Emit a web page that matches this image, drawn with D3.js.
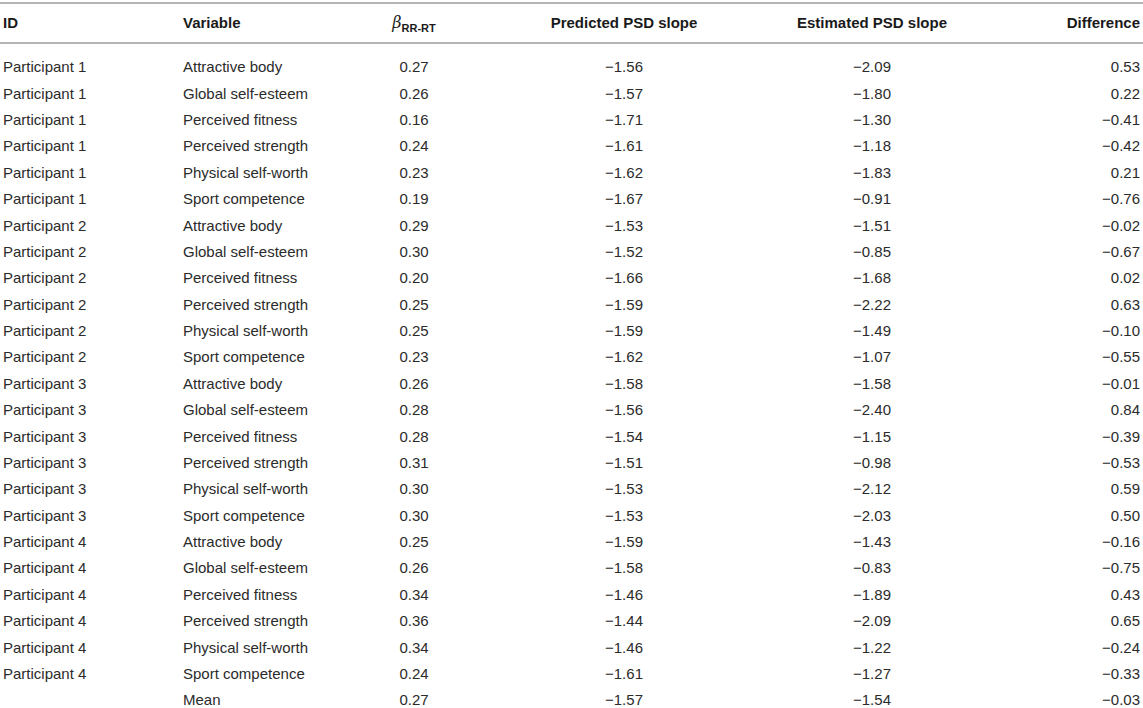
<!DOCTYPE html>
<html lang="en">
<head>
    <meta charset="UTF-8">
    <title>Table</title>
    <script src="https://d3js.org/d3.v7.min.js"></script>
    <style>
        body { margin: 0; background: white; }
        svg { display: block; font-family: "Liberation Sans", Arial, sans-serif; }
    </style>
</head>
<body>
<script>

    var ids = ["Participant 1", "Participant 1", "Participant 1", "Participant 1", "Participant 1", "Participant 1",
        "Participant 2", "Participant 2", "Participant 2", "Participant 2", "Participant 2", "Participant 2",
        "Participant 3", "Participant 3", "Participant 3", "Participant 3", "Participant 3", "Participant 3",
        "Participant 4", "Participant 4", "Participant 4", "Participant 4", "Participant 4", "Participant 4", ""]
    var variables = ["Attractive body", "Global self-esteem", "Perceived fitness", "Perceived strength", "Physical self-worth", "Sport competence",
        "Attractive body", "Global self-esteem", "Perceived fitness", "Perceived strength", "Physical self-worth", "Sport competence",
        "Attractive body", "Global self-esteem", "Perceived fitness", "Perceived strength", "Physical self-worth", "Sport competence",
        "Attractive body", "Global self-esteem", "Perceived fitness", "Perceived strength", "Physical self-worth", "Sport competence",
        "Mean"]
    var beta = [0.27, 0.26, 0.16, 0.24, 0.23, 0.19,
        0.29, 0.30, 0.20, 0.25, 0.25, 0.23,
        0.26, 0.28, 0.28, 0.31, 0.30, 0.30,
        0.25, 0.26, 0.34, 0.36, 0.34, 0.24,
        0.27]
    var predicted = [-1.56, -1.57, -1.71, -1.61, -1.62, -1.67,
        -1.53, -1.52, -1.66, -1.59, -1.59, -1.62,
        -1.58, -1.56, -1.54, -1.51, -1.53, -1.53,
        -1.59, -1.58, -1.46, -1.44, -1.46, -1.61,
        -1.57]
    var estimated = [-2.09, -1.80, -1.30, -1.18, -1.83, -0.91,
        -1.51, -0.85, -1.68, -2.22, -1.49, -1.07,
        -1.58, -2.40, -1.15, -0.98, -2.12, -2.03,
        -1.43, -0.83, -1.89, -2.09, -1.22, -1.27,
        -1.54]
    var difference = [0.53, 0.22, -0.41, -0.42, 0.21, -0.76,
        -0.02, -0.67, 0.02, 0.63, -0.10, -0.55,
        -0.01, 0.84, -0.39, -0.53, 0.59, 0.50,
        -0.16, -0.75, 0.43, 0.65, -0.24, -0.33,
        -0.03]

    var width = 1143
    var height = 708
    var fmt = d3.format(".2f")

    var svg = d3.select("body").append("svg")
        .attr("width", width)
        .attr("height", height)

    // column anchors
    var cols = [
        {key: "id", x: 3, anchor: "start", title: "ID"},
        {key: "variable", x: 183, anchor: "start", title: "Variable"},
        {key: "beta", x: 414, anchor: "middle", title: null},
        {key: "predicted", x: 624, anchor: "middle", title: "Predicted PSD slope"},
        {key: "estimated", x: 872, anchor: "middle", title: "Estimated PSD slope"},
        {key: "difference", x: 1140, anchor: "end", title: "Difference"}
    ]

    var rows = d3.range(ids.length).map(function (i) {
        return {
            id: ids[i],
            variable: variables[i],
            beta: fmt(beta[i]),
            predicted: fmt(predicted[i]),
            estimated: fmt(estimated[i]),
            difference: fmt(difference[i])
        }
    })

    var y = d3.scalePoint()
        .domain(d3.range(rows.length))
        .range([67, 700])

    // rules
    svg.selectAll("line.rule")
        .data([3, 43])
        .enter().append("line")
        .attr("class", "rule")
        .attr("x1", 0)
        .attr("x2", width)
        .attr("y1", function (d) { return d })
        .attr("y2", function (d) { return d })
        .attr("stroke", "#b5b5b5")
        .attr("stroke-width", 2)

    // header
    var header = svg.append("g")
        .attr("font-weight", "bold")
        .attr("font-size", 15)
        .attr("fill", "#1a1a1a")

    cols.forEach(function (c) {
        var t = header.append("text")
            .attr("x", c.x)
            .attr("y", 23)
            .attr("dy", "0.35em")
            .attr("text-anchor", c.anchor)
        if (c.title) {
            t.text(c.title)
        } else {
            t.append("tspan")
                .attr("font-family", "'DejaVu Serif', serif")
                .attr("font-style", "italic")
                .attr("font-weight", "normal")
                .attr("font-size", 16)
                .text("β")
            t.append("tspan")
                .attr("font-size", 11)
                .attr("dy", "0.3em")
                .text("RR-RT")
        }
    })

    // body
    var body = svg.append("g")
        .attr("font-size", 15)
        .attr("fill", "#2b2b2b")

    var row = body.selectAll("g.row")
        .data(rows)
        .enter().append("g")
        .attr("class", "row")
        .attr("transform", function (d, i) { return "translate(0," + y(i) + ")" })

    cols.forEach(function (c) {
        row.append("text")
            .attr("x", c.x)
            .attr("dy", "0.35em")
            .attr("text-anchor", c.anchor)
            .text(function (d) { return d[c.key] })
    })

</script>
</body>
</html>
